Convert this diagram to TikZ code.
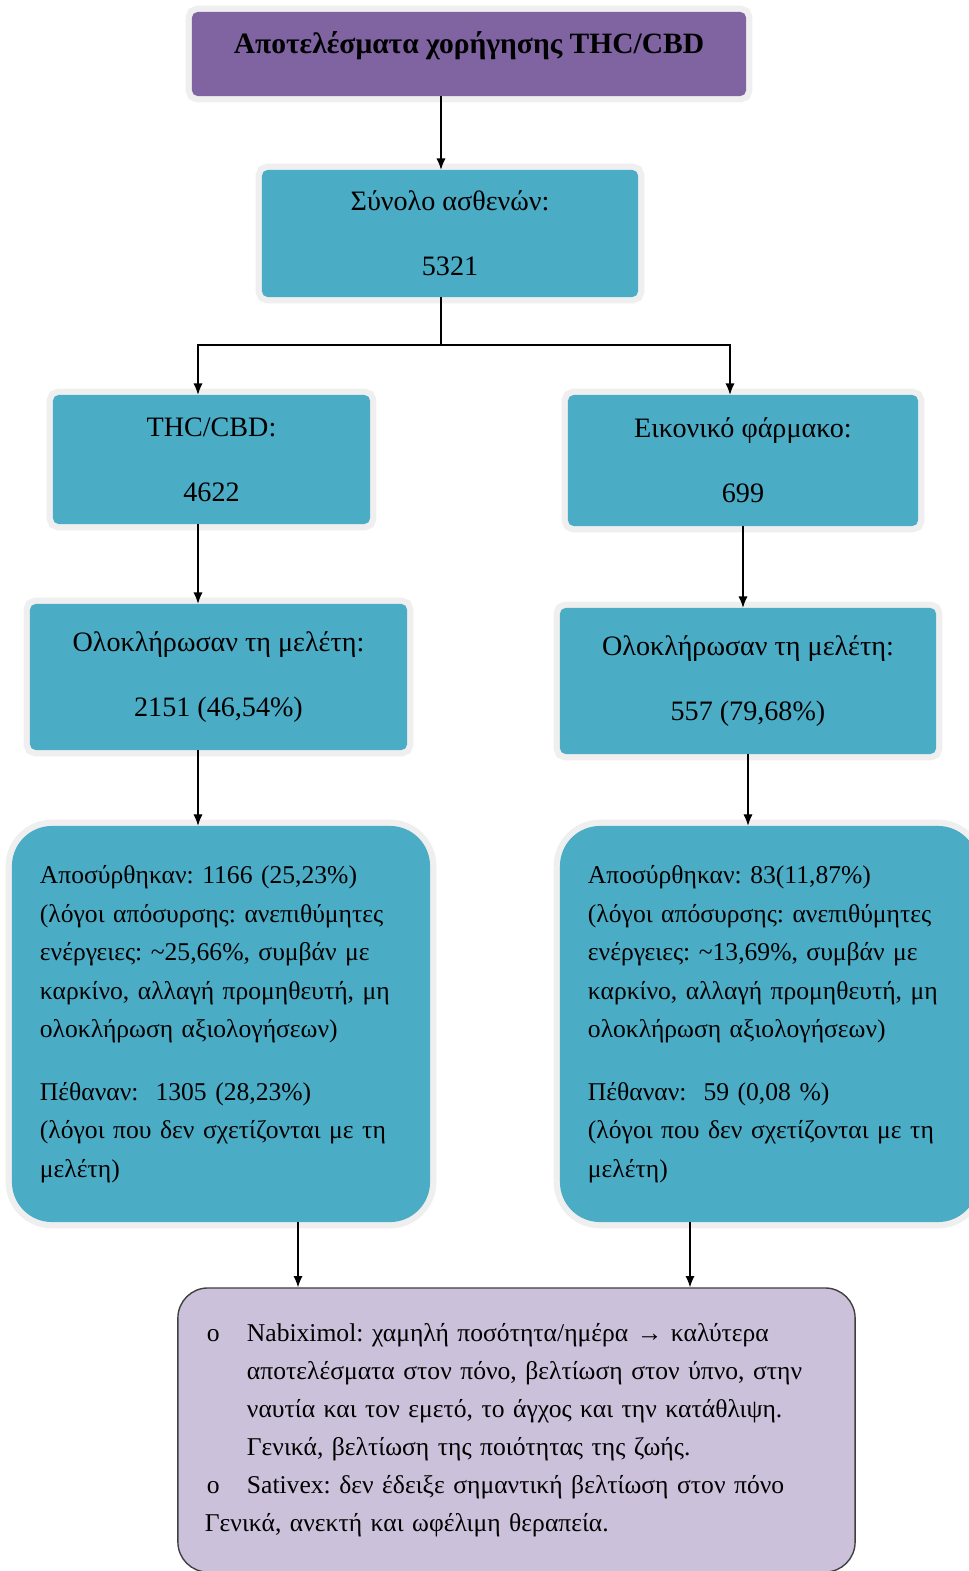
\documentclass[tikz,border=0pt]{standalone}
\usepackage{fontspec}
\setmainfont{Liberation Serif}
\usetikzlibrary{positioning, calc, arrows.meta}
\definecolor{headpurple}{HTML}{8064A2}
\definecolor{boxaqua}{HTML}{4BACC6}
\definecolor{notelilac}{HTML}{CCC1DA}
\definecolor{halogray}{HTML}{EFEFEF}
\tikzstyle{Arrow} = [
%filled arrow head:
line width=0.8pt,
-{Latex[length=8pt, width=6.5pt]}
]
\newcommand{\bul}{\makebox[1.05cm][l]{\hspace{0.05cm}o}}
\newcommand{\subind}{\hspace*{1.05cm}}
\frenchspacing

\begin{document}
\begin{tikzpicture}[x=0.025cm, y=-0.025cm,
				headbox/.style = {rectangle, rounded corners=4pt, fill=headpurple, preaction={draw=halogray, line width=9pt}, font=\fontsize{21}{25}\selectfont\bfseries, text height=0.4cm, text depth=0.4cm},
				countbox/.style = {rectangle, rounded corners=4pt, fill=boxaqua, preaction={draw=halogray, line width=9pt}, align=center, font=\fontsize{20}{24}\selectfont},
				outcome/.style = {rectangle, rounded corners=1cm, fill=boxaqua, preaction={draw=halogray, line width=9pt}, align=left, text width=9.05cm, inner xsep=0.7cm, minimum width=10.45cm, minimum height=9.9cm, font=\fontsize{18.2}{27.4}\selectfont},
				summary/.style = {rectangle, rounded corners=0.75cm, fill=notelilac, draw=black!75, line width=1pt, align=left, text width=15.575cm, inner xsep=0.675cm, minimum width=16.925cm, minimum height=7.1cm, font=\fontsize{18.2}{27}\selectfont},
			]
			\useasboundingbox (0,0) rectangle (968,1571);

			\node[headbox, minimum width=13.85cm, minimum height=2.1cm](head) at (469,54){Αποτελέσματα χορήγησης THC/CBD};
			\node[countbox, minimum width=9.4cm, minimum height=3.175cm](total) at (450,233.5){Σύνολο ασθενών:\\[22pt]5321};
			\node[countbox, minimum width=7.925cm, minimum height=3.225cm](thc) at (211.5,459.5){THC/CBD:\\[22pt]4622};
			\node[countbox, minimum width=8.75cm, minimum height=3.275cm](placebo) at (743,460.5){Εικονικό φάρμακο:\\[22pt]699};
			\node[countbox, minimum width=9.425cm, minimum height=3.65cm](donel) at (218.5,677){Ολοκλήρωσαν τη μελέτη:\\[22pt]2151 (46,54\%)};
			\node[countbox, minimum width=9.4cm, minimum height=3.65cm](doner) at (748,681){Ολοκλήρωσαν τη μελέτη:\\[22pt]557 (79,68\%)};

			\node[outcome](outl) at (221,1024){Αποσύρθηκαν: 1166 (25,23\%)\\
				(λόγοι απόσυρσης: ανεπιθύμητες\\
				ενέργειες: \textasciitilde25,66\%, συμβάν με\\
				καρκίνο, αλλαγή προμηθευτή, μη\\
				ολοκλήρωση αξιολογήσεων)\\[17pt]
				Πέθαναν: \ 1305 (28,23\%)\\
				(λόγοι που δεν σχετίζονται με τη\\
				μελέτη)};
			\node[outcome](outr) at (769,1024){Αποσύρθηκαν: 83(11,87\%)\\
				(λόγοι απόσυρσης: ανεπιθύμητες\\
				ενέργειες: \textasciitilde13,69\%, συμβάν με\\
				καρκίνο, αλλαγή προμηθευτή, μη\\
				ολοκλήρωση αξιολογήσεων)\\[17pt]
				Πέθαναν: \ 59 (0,08 \%)\\
				(λόγοι που δεν σχετίζονται με τη\\
				μελέτη)};

			\node[summary](result) at (516.5,1430){\bul Nabiximol: χαμηλή ποσότητα/ημέρα → καλύτερα\\
				\subind αποτελέσματα στον πόνο, βελτίωση στον ύπνο, στην\\
				\subind ναυτία και τον εμετό, το άγχος και την κατάθλιψη.\\
				\subind Γενικά, βελτίωση της ποιότητας της ζωής.\\
				\bul Sativex: δεν έδειξε σημαντική βελτίωση στον πόνο\\
				Γενικά, ανεκτή και ωφέλιμη θεραπεία.};

			\coordinate(split) at (441,345);
			\coordinate(lcol) at (198,345);
			\coordinate(rcol) at (730,345);
			\coordinate(lin) at (298,1250);
			\coordinate(rin) at (690,1250);

			\draw[Arrow](head.south -| split)--(total.north -| split);
			\draw[line width=0.8pt](total.south -| split)--(split);
			\draw[Arrow](split) -| (thc.north -| lcol);
			\draw[Arrow](split) -| (placebo.north -| rcol);
			\draw[Arrow](thc.south -| lcol)--(donel.north -| lcol);
			\draw[Arrow](placebo.south)--(placebo.south |- doner.north);
			\draw[Arrow](donel.south -| lcol)--(outl.north -| lcol);
			\draw[Arrow](doner.south)--(doner.south |- outr.north);
			\draw[Arrow](outl.south -| lin)--(result.north -| lin);
			\draw[Arrow](outr.south -| rin)--(result.north -| rin);

		\end{tikzpicture}
\end{document}
